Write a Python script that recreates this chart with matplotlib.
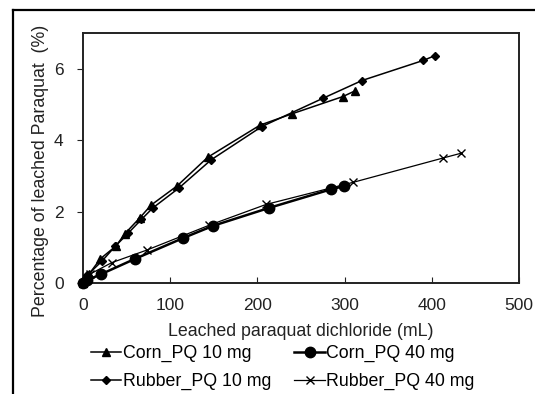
import matplotlib
matplotlib.use("Agg")
from matplotlib import pyplot as plt
from matplotlib.lines import Line2D

plt.rcParams['font.family'] = ['Liberation Sans', 'DejaVu Sans']

# leached volume (mL) and leached paraquat (%)
corn10_x = [0, 7, 20, 38, 48, 65, 78, 108, 143, 203, 240, 298, 312]
corn10_y = [0, 0.25, 0.68, 1.04, 1.38, 1.82, 2.18, 2.72, 3.52, 4.42, 4.74, 5.22, 5.38]

corn40_x = [0, 5, 21, 60, 115, 149, 213, 284, 299]
corn40_y = [0, 0.08, 0.25, 0.68, 1.26, 1.6, 2.1, 2.62, 2.71]

rubber10_x = [0, 5, 22, 37, 52, 67, 80, 110, 147, 205, 275, 320, 390, 404]
rubber10_y = [0, 0.22, 0.62, 1.03, 1.4, 1.78, 2.1, 2.66, 3.45, 4.38, 5.17, 5.67, 6.23, 6.37]

rubber40_x = [0, 8, 33, 73, 145, 210, 310, 413, 433]
rubber40_y = [0, 0.25, 0.57, 0.92, 1.62, 2.2, 2.82, 3.5, 3.63]

x_ticks = [0, 100, 200, 300, 400, 500]
y_ticks = [0, 2, 4, 6]

fs = 12.5

fig = plt.figure(figsize=(5.35, 3.94), dpi=100)
ax = fig.add_axes([83 / 535, 1 - 283 / 394, 436 / 535, 250 / 394])

c10, = ax.plot(corn10_x, corn10_y, color='black', linewidth=1.1, marker='^',
               markersize=5.5, label='Corn_PQ 10 mg', zorder=3, clip_on=False)
c40, = ax.plot(corn40_x, corn40_y, color='black', linewidth=1.8, marker='o',
               markersize=7.5, label='Corn_PQ 40 mg', zorder=3, clip_on=False)
r10, = ax.plot(rubber10_x, rubber10_y, color='black', linewidth=1.1, marker='D',
               markersize=4, label='Rubber_PQ 10 mg', zorder=3, clip_on=False)
r40, = ax.plot(rubber40_x, rubber40_y, color='black', linewidth=0.9, marker='x',
               markersize=6, markeredgewidth=1.0, label='Rubber_PQ 40 mg',
               zorder=3, clip_on=False)

ax.set_xlim(0, 500)
ax.set_ylim(0, 7)
ax.set_xticks(x_ticks)
ax.set_yticks(y_ticks)
ax.tick_params(axis='x', direction='in', length=4, pad=11, labelsize=fs,
               colors='#222222')
ax.tick_params(axis='y', direction='out', length=4, pad=10, labelsize=fs,
               colors='#222222')
for side in ax.spines.values():
    side.set_linewidth(1.4)
    side.set_color('#222222')

ax.set_xlabel('Leached paraquat dichloride (mL)', fontsize=fs + 0.3,
              color='#222222', va='center')
ax.xaxis.set_label_coords(0.5, (283 - 331) / 250)
ax.set_ylabel('Percentage of leached Paraquat  (%)', fontsize=fs + 0.3,
              color='#222222', va='center')
ax.yaxis.set_label_coords((41 - 83) / 436, (283 - 171) / 250)

# row-wise order: corn on the first row, rubber on the second
ax.legend([c10, r10, c40, r40],
          ['Corn_PQ 10 mg', 'Rubber_PQ 10 mg', 'Corn_PQ 40 mg', 'Rubber_PQ 40 mg'],
          loc='upper left', bbox_to_anchor=(91 / 535, 1 - 345 / 394),
          bbox_transform=fig.transFigure, ncol=2, frameon=False, fontsize=fs + 0.3,
          handlelength=1.7, handletextpad=0.1, columnspacing=1.3,
          labelspacing=0.62, borderpad=0, borderaxespad=0)

# outer frame around the figure panel
fig.add_artist(Line2D([13 / 535, 13 / 535], [0, 1 - 10 / 394], color='black',
                      linewidth=1.6, transform=fig.transFigure))
fig.add_artist(Line2D([13 / 535, 1], [1 - 10 / 394, 1 - 10 / 394], color='black',
                      linewidth=1.6, transform=fig.transFigure))
fig.text(0.0, 1 + 4 / 394, 'ne.', fontsize=12, fontweight='bold', va='center',
         ha='left')

fig.savefig('out.png', dpi=100)
